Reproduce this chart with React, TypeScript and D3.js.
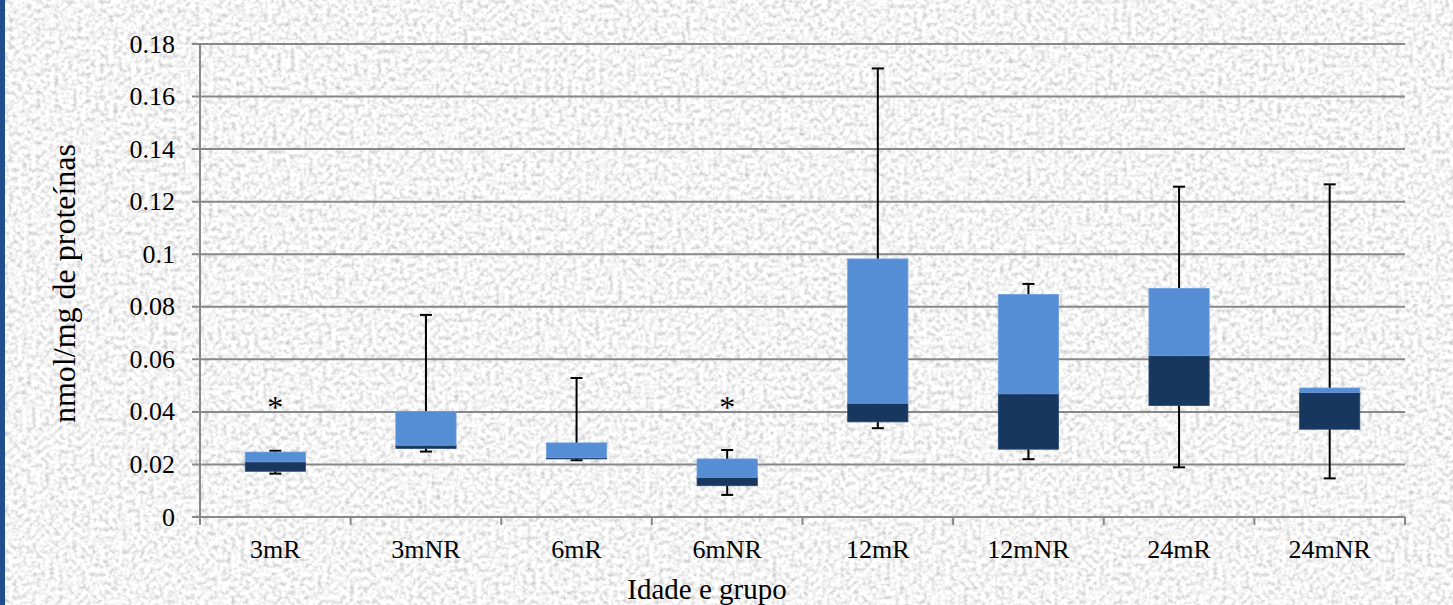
import React from 'react';
import * as d3 from 'd3';

// values (nmol/mg de proteínas)
const categories = ['3mR', '3mNR', '6mR', '6mNR', '12mR', '12mNR', '24mR', '24mNR'];
const whiskerMin = [0.0165, 0.0249, 0.0216, 0.0084, 0.0338, 0.0220, 0.0189, 0.0147];
const q1 = [0.0174, 0.0261, 0.0221, 0.0119, 0.0362, 0.0258, 0.0424, 0.0334];
const median = [0.0210, 0.0273, 0.0226, 0.0151, 0.0433, 0.0469, 0.0614, 0.0474];
const q3 = [0.0247, 0.0402, 0.0282, 0.0221, 0.0982, 0.0847, 0.0870, 0.0491];
const whiskerMax = [0.0252, 0.0769, 0.0529, 0.0255, 0.1707, 0.0887, 0.1257, 0.1266];
const significant = [true, false, false, true, false, false, false, false];
const yTicks = [0, 0.02, 0.04, 0.06, 0.08, 0.1, 0.12, 0.14, 0.16, 0.18];

const yTitle = 'nmol/mg de proteínas';
const xTitle = 'Idade e grupo';

const W = 1453;
const H = 605;
const margin = { top: 44, right: 48, bottom: 88, left: 200 };

const lightBlue = '#558ed5';
const darkBlue = '#17375e';
const gridColor = '#888888';
const font = "'Liberation Serif', 'Times New Roman', Times, 'DejaVu Serif', serif";

const App = () => {
  const x = d3.scaleBand()
    .domain(categories)
    .range([margin.left, W - margin.right])
    .paddingInner(0)
    .paddingOuter(0);

  const y = d3.scaleLinear()
    .domain([0, 0.18])
    .range([H - margin.bottom, margin.top]);

  const boxW = x.bandwidth() * 0.4;
  const capW = 12;
  const x0 = margin.left;
  const x1 = W - margin.right;
  const yBase = y(0);

  const boundaries = categories.map(c => x(c)).concat([x1]);

  const txt = { fontFamily: font, fill: '#000' };

  return (
    <svg width={W} height={H} style={{ position: 'absolute', left: 0, top: 0, display: 'block' }}>
      <defs>
        <filter id="stone" filterUnits="userSpaceOnUse" x="0" y="0" width={W} height={H}>
          <feTurbulence type="fractalNoise" baseFrequency="0.22" numOctaves="2" seed="11" result="n" />
          <feColorMatrix
            type="matrix"
            values="0.9 0 0 0 0.46  0.9 0 0 0 0.46  0.9 0 0 0 0.46  0 0 0 0 1"
          />
        </filter>
      </defs>

      {/* textured background */}
      <rect x={0} y={0} width={W} height={H} fill="#ebebeb" />
      <rect x={0} y={0} width={W} height={H} filter="url(#stone)" />
      <rect x={0} y={0} width={5} height={H} fill="#1f4e8c" />

      {/* gridlines + y ticks */}
      {yTicks.map(t => (
        <g key={'g' + t}>
          <line x1={x0 - 8} x2={x1} y1={y(t)} y2={y(t)} stroke={gridColor} strokeWidth={2} />
          <text x={175} y={y(t) + 8.5} textAnchor="end" fontSize={26} style={txt}>
            {String(+t.toFixed(2))}
          </text>
        </g>
      ))}

      {/* axes */}
      <line x1={x0} x2={x0} y1={y(0.18)} y2={yBase} stroke={gridColor} strokeWidth={2} />
      {boundaries.map((b, i) => (
        <line key={'xt' + i} x1={b} x2={b} y1={yBase} y2={yBase + 8} stroke={gridColor} strokeWidth={2} />
      ))}

      {/* boxes */}
      {categories.map((c, i) => {
        const cx = x(c) + x.bandwidth() / 2;
        return (
          <g key={c}>
            <line x1={cx} x2={cx} y1={y(whiskerMin[i])} y2={y(whiskerMax[i])} stroke="#000" strokeWidth={2} />
            <line x1={cx - capW / 2} x2={cx + capW / 2} y1={y(whiskerMin[i])} y2={y(whiskerMin[i])} stroke="#000" strokeWidth={2} />
            <line x1={cx - capW / 2} x2={cx + capW / 2} y1={y(whiskerMax[i])} y2={y(whiskerMax[i])} stroke="#000" strokeWidth={2} />
            <rect
              x={cx - boxW / 2}
              y={y(median[i])}
              width={boxW}
              height={y(q1[i]) - y(median[i])}
              fill={darkBlue}
              stroke="#2b4c78"
              strokeWidth={0.8}
            />
            <rect
              x={cx - boxW / 2}
              y={y(q3[i])}
              width={boxW}
              height={y(median[i]) - y(q3[i])}
              fill={lightBlue}
              stroke="#6f9fdc"
              strokeWidth={0.8}
            />
            {significant[i] && (
              <text x={cx} y={y(0.043) + 14} textAnchor="middle" fontSize={32} style={txt}>
                *
              </text>
            )}
            <text x={cx} y={558} textAnchor="middle" fontSize={26} style={txt}>
              {c}
            </text>
          </g>
        );
      })}

      {/* axis titles */}
      <text
        transform={`translate(75, ${(y(0.18) + yBase) / 2 + 3}) rotate(-90)`}
        textAnchor="middle"
        fontSize={32}
        style={txt}
      >
        {yTitle}
      </text>
      <text x={707} y={599} textAnchor="middle" fontSize={29} style={txt}>
        {xTitle}
      </text>
    </svg>
  );
};

export default App;
